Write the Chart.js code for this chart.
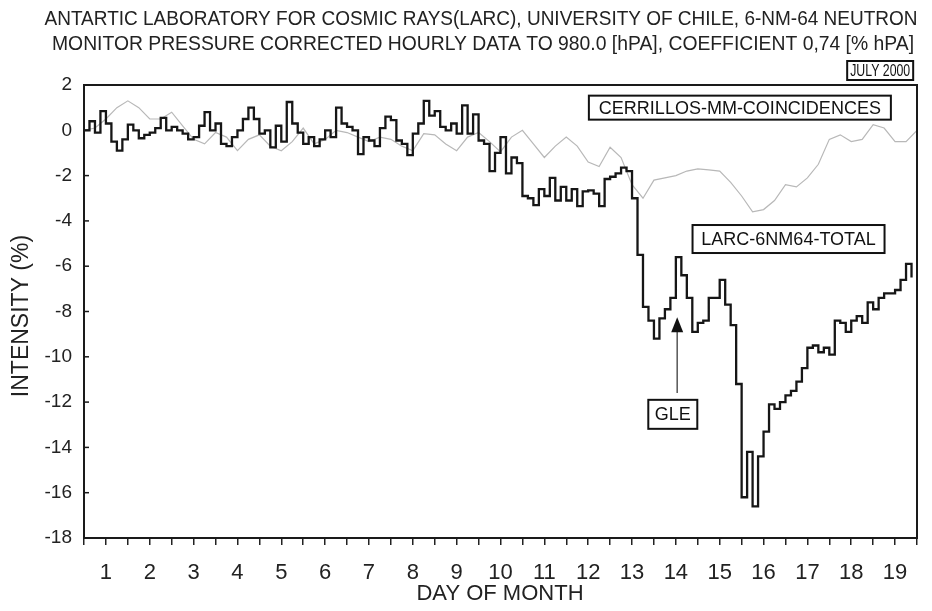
<!DOCTYPE html>
<html>
<head>
<meta charset="utf-8">
<script src="https://cdn.jsdelivr.net/npm/chart.js@4.4.0/dist/chart.umd.min.js"></script>
<style>
  body { margin: 0; background: #fff; }
  canvas { display: block; }
</style>
</head>
<body>
<canvas id="nmCanvas" width="932" height="611"></canvas>
<script>
const startDay = 1;
const larcStepHours = 3;
const cerrillosStepHours = 6;

// LARC-6NM64-TOTAL, intensity in %
const larcTotal = [
  0.0, 0.4, -0.1, 0.85, 0.3, -0.5, -0.9, -0.4,
  0.25, 0.0, -0.35, -0.2, -0.1, 0.1, 0.55, 0.0,
  0.15, 0.0, -0.15, -0.4, -0.3, 0.2, 0.8, 0.0,
  0.3, -0.6, -0.7, -0.3, 0.0, 0.5, 1.0, 0.5,
  -0.15, 0.0, -0.75, 0.2, -0.5, 1.25, 0.3, -0.1,
  -0.6, -0.3, -0.7, -0.4, 0.0, -0.3, 1.0, 0.3,
  0.15, 0.0, -1.05, -0.3, -0.45, -0.7, 0.1, 0.6,
  0.45, -0.45, -0.6, -1.1, -0.15, 0.3, 1.3, 0.65,
  0.85, 0.15, 0.0, 0.3, -0.15, 1.1, -0.15, 0.7,
  -0.45, -0.6, -1.8, -1.0, -0.3, -1.9, -1.2, -1.45,
  -2.9, -3.0, -3.3, -2.6, -2.9, -2.1, -3.1, -2.5,
  -3.1, -2.6, -3.35, -2.7, -2.65, -2.8, -3.35, -2.15,
  -2.05, -1.9, -1.65, -1.8, -3.0, -5.5, -7.8, -8.4,
  -9.2, -8.3, -7.9, -7.4, -5.6, -6.4, -7.4, -8.9,
  -8.5, -8.4, -7.4, -7.4, -6.6, -7.7, -8.6, -11.2,
  -16.2, -14.2, -16.6, -14.4, -13.3, -12.1, -12.3, -12.0,
  -11.7, -11.5, -11.1, -10.5, -9.6, -9.5, -9.8, -9.6,
  -9.9, -8.4, -8.5, -8.9, -8.4, -8.2, -8.5, -7.6,
  -7.9, -7.4, -7.2, -7.2, -7.05, -6.6, -5.9, -6.5
];

// CERRILLOS-MM-COINCIDENCES, intensity in %
const cerrillos = [
  0.0, 0.1, 0.5, 1.0, 1.3, 1.0, 0.5, 0.5, 0.8, 0.2,
  -0.4, -0.6, -0.1, -0.3, -0.9, -0.4, -0.2, -0.7, -0.9, -0.5,
  0.1, -0.6, -0.4, 0.0, -0.1, -0.3, -0.5, -0.3, -0.4, -0.7,
  -0.9, -0.15, -0.2, -0.6, -0.9, -0.3, -0.1, -0.5, -0.95, -0.3,
  0.0, -0.6, -1.2, -0.7, -0.3, -0.7, -1.4, -1.6, -0.75, -1.2,
  -2.4, -3.0, -2.2, -2.1, -2.0, -1.8, -1.7, -1.75, -1.8, -2.3,
  -2.9, -3.6, -3.5, -3.1, -2.4, -2.5, -2.1, -1.5, -0.4, -0.2,
  -0.5, -0.4, 0.25, 0.1, -0.5, -0.5, 0.0
];

const dayMin = 1;
const dayMax = 20;
const yMin = -18;
const yMax = 2;

const titleLines = [
  "ANTARTIC LABORATORY FOR COSMIC RAYS(LARC), UNIVERSITY OF CHILE, 6-NM-64 NEUTRON",
  "MONITOR PRESSURE CORRECTED HOURLY DATA TO 980.0 [hPA], COEFFICIENT 0,74 [% hPA]"
];

function toPoints(values, stepHours) {
  return values.map(function(v, i) {
    return { x: startDay + i * stepHours / 24, y: v };
  });
}

// boxed labels, anchored in data units (day, %)
const labelBoxes = [
  { text: "JULY 2000", day: 19.16, val: 2.64, w: 66, h: 19, font: 17, maxW: 60 },
  { text: "CERRILLOS-MM-COINCIDENCES", day: 15.96, val: 1.0, w: 302, h: 24, font: 18, maxW: 292 },
  { text: "LARC-6NM64-TOTAL", day: 17.07, val: -4.8, w: 192, h: 28, font: 18, maxW: 178 },
  { text: "GLE", day: 14.43, val: -12.54, w: 49, h: 29, font: 18, maxW: 37 }
];
const gleArrow = { day: 14.53, from: -11.6, to: -8.25 };

const decorPlugin = {
  id: "decor",
  afterDatasetsDraw(chart) {
    const ctx = chart.ctx;
    const a = chart.chartArea;
    const xs = chart.scales.x;
    const ys = chart.scales.y;
    ctx.save();
    // frame
    ctx.strokeStyle = "#1a1a1a";
    ctx.lineWidth = 2;
    ctx.strokeRect(a.left, a.top, a.right - a.left, a.bottom - a.top);
    // y ticks pointing inwards
    ctx.lineWidth = 1.5;
    ys.ticks.forEach(function(t) {
      const py = ys.getPixelForValue(t.value);
      ctx.beginPath();
      ctx.moveTo(a.left, py);
      ctx.lineTo(a.left + 5, py);
      ctx.stroke();
    });
    // arrow to the GLE
    const ax = xs.getPixelForValue(gleArrow.day);
    const ay0 = ys.getPixelForValue(gleArrow.from);
    const ay1 = ys.getPixelForValue(gleArrow.to);
    ctx.strokeStyle = "#555";
    ctx.lineWidth = 1.5;
    ctx.beginPath();
    ctx.moveTo(ax, ay0);
    ctx.lineTo(ax, ay1 + 12);
    ctx.stroke();
    ctx.fillStyle = "#111";
    ctx.beginPath();
    ctx.moveTo(ax, ay1);
    ctx.lineTo(ax - 6, ay1 + 15);
    ctx.lineTo(ax + 6, ay1 + 15);
    ctx.closePath();
    ctx.fill();
    // boxed labels
    labelBoxes.forEach(function(b) {
      const cx = xs.getPixelForValue(b.day);
      const cy = ys.getPixelForValue(b.val);
      ctx.fillStyle = "#fff";
      ctx.fillRect(cx - b.w / 2, cy - b.h / 2, b.w, b.h);
      ctx.strokeStyle = "#111";
      ctx.lineWidth = 2;
      ctx.strokeRect(cx - b.w / 2, cy - b.h / 2, b.w, b.h);
      ctx.fillStyle = "#111";
      ctx.font = b.font + "px 'Liberation Sans', Arial, sans-serif";
      ctx.textAlign = "center";
      ctx.textBaseline = "middle";
      ctx.fillText(b.text, cx, cy + 1, b.maxW);
    });
    ctx.restore();
  },
  afterDraw(chart) {
    const ctx = chart.ctx;
    ctx.save();
    ctx.fillStyle = "#222";
    ctx.textAlign = "center";
    ctx.textBaseline = "middle";
    ctx.font = "20px 'Liberation Sans', Arial, sans-serif";
    ctx.fillText(titleLines[0], 481, 19, 873);
    ctx.fillText(titleLines[1], 483, 44, 862);
    ctx.font = "22px 'Liberation Sans', Arial, sans-serif";
    ctx.fillText("DAY OF MONTH", 500, 594);
    ctx.translate(22, 316);
    ctx.rotate(-Math.PI / 2);
    ctx.font = "23px 'Liberation Sans', Arial, sans-serif";
    ctx.fillText("INTENSITY (%)", 0, 0);
    ctx.restore();
  }
};

const nmChart = new Chart(document.getElementById("nmCanvas"), {
  type: "line",
  data: {
    datasets: [{
      label: "LARC-6NM64-TOTAL",
      data: toPoints(larcTotal, larcStepHours),
      borderColor: "#161616",
      borderWidth: 2.3,
      stepped: true,
      pointRadius: 0,
      order: 1
    },
    {
      label: "CERRILLOS-MM-COINCIDENCES",
      data: toPoints(cerrillos, cerrillosStepHours),
      borderColor: "#b8b8b8",
      borderWidth: 1.2,
      tension: 0,
      pointRadius: 0,
      order: 2
    }]
  },
  options: {
    responsive: false,
    animation: false,
    devicePixelRatio: 1,
    layout: { padding: { top: 85, right: 10, left: 0, bottom: 0 } },
    plugins: {
      legend: { display: false },
      tooltip: { enabled: false }
    },
    scales: {
      x: {
        type: "linear",
        min: dayMin,
        max: dayMax,
        afterFit: function(s) { s.height = 73; },
        ticks: {
          stepSize: 0.5,
          autoSkip: false,
          maxRotation: 0,
          padding: 15,
          color: "#222",
          font: { family: "'Liberation Sans', Arial, sans-serif", size: 22 },
          callback: function(v) { return (v % 1 === 0.5) ? String(v - 0.5) : ""; }
        },
        grid: { drawOnChartArea: false, drawTicks: true, tickLength: 7, color: "#222", lineWidth: 1.5 },
        border: { display: true, color: "#1a1a1a", width: 2 }
      },
      y: {
        min: yMin,
        max: yMax,
        afterFit: function(s) { s.width = 84; },
        ticks: {
          stepSize: 2,
          padding: 12,
          color: "#222",
          font: { family: "'Liberation Sans', Arial, sans-serif", size: 19 }
        },
        grid: { drawOnChartArea: false, drawTicks: false },
        border: { display: true, color: "#1a1a1a", width: 2 }
      }
    }
  },
  plugins: [decorPlugin]
});
</script>
</body>
</html>
